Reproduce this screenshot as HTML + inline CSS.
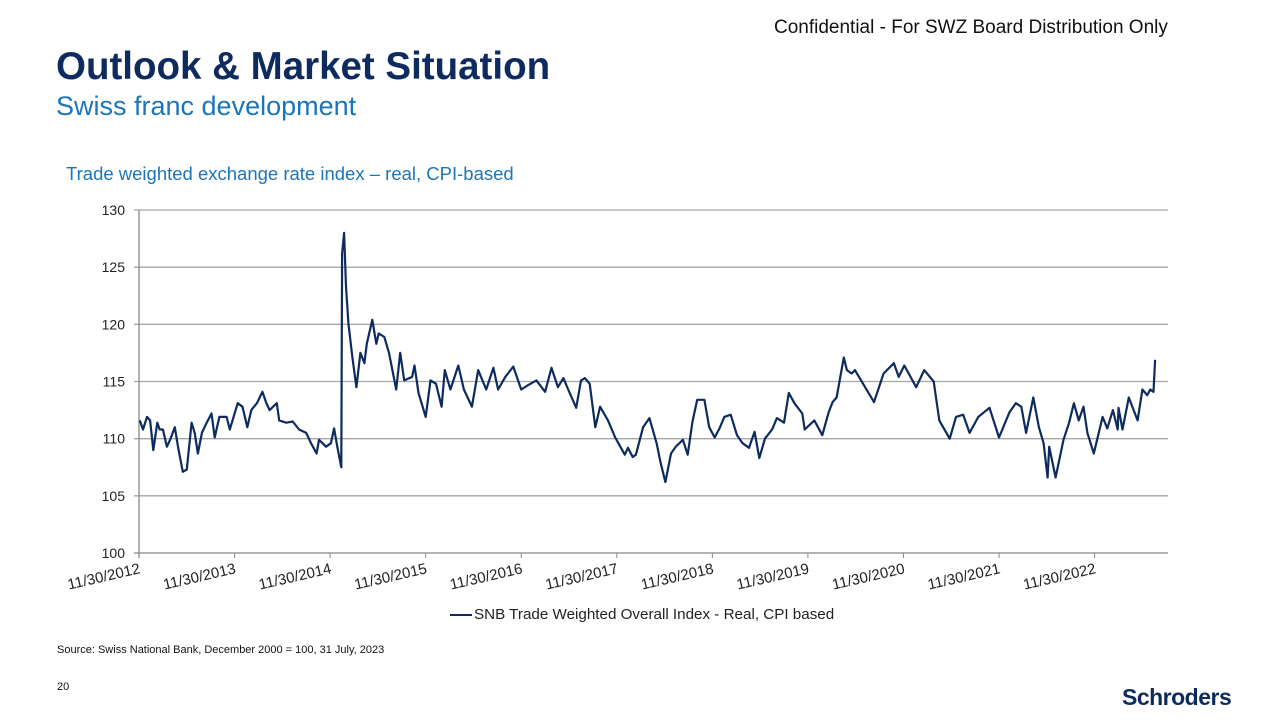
<!DOCTYPE html>
<html><head><meta charset="utf-8"><style>
body{margin:0;width:1280px;height:720px;background:#fff;font-family:"Liberation Sans",sans-serif;position:relative;overflow:hidden}
.a{position:absolute;white-space:nowrap}
</style></head><body>
<div class="a" style="left:774px;top:17px;font-size:19px;color:#111">Confidential - For SWZ Board Distribution Only</div>
<div class="a" style="left:56px;top:45px;font-size:38.5px;font-weight:bold;color:#0d2b5e">Outlook &amp; Market Situation</div>
<div class="a" style="left:56px;top:91px;font-size:27px;color:#1a75bb">Swiss franc development</div>
<div class="a" style="left:66px;top:163px;font-size:18.5px;color:#1a75bb">Trade weighted exchange rate index – real, CPI-based</div>
<svg class="a" style="left:0;top:0" width="1280" height="720">
<g id="grid"></g><g id="xl"></g><polyline id="line" fill="none" stroke="#0d2b5e" stroke-width="2.2" stroke-linejoin="round"/>
</svg>
<div class="a" style="left:450px;top:606px;font-size:15.2px;color:#222"><span style="display:inline-block;width:22px;border-top:2.5px solid #0d2b5e;vertical-align:middle;margin-right:2px"></span>SNB Trade Weighted Overall Index - Real, CPI based</div>
<div class="a" style="left:57px;top:644px;font-size:11px;color:#111">Source: Swiss National Bank, December 2000 = 100, 31 July, 2023</div>
<div class="a" style="left:57px;top:681px;font-size:11px;color:#111">20</div>
<div class="a" style="left:1122px;top:684px;font-size:23px;font-weight:bold;color:#0d2b5e;letter-spacing:-0.5px">Schroders</div>
<script>
const yTicks=[100,105,110,115,120,125,130];
const xTickLabels=["11/30/2012","11/30/2013","11/30/2014","11/30/2015","11/30/2016","11/30/2017","11/30/2018","11/30/2019","11/30/2020","11/30/2021","11/30/2022"];
const months=[0.1,0.5,1.0,1.4,1.8,2.3,2.6,3.0,3.5,3.9,4.5,4.9,5.5,6.0,6.6,7.0,7.4,7.9,8.5,9.1,9.5,10.1,11.0,11.4,12.4,13.0,13.6,14.1,14.8,15.5,16.0,16.4,17.3,17.6,18.5,19.3,20.1,21.0,21.6,22.3,22.6,23.5,24.1,24.5,24.9,25.4,25.5,25.75,26.0,26.3,26.8,27.3,27.8,28.3,28.6,29.3,29.8,30.1,30.8,31.4,32.3,32.8,33.3,34.3,34.6,35.1,36.0,36.6,37.3,38.0,38.4,39.1,40.1,40.8,41.8,42.6,43.6,44.5,45.1,46.0,47.0,48.0,48.9,49.9,51.0,51.8,52.6,53.3,53.9,54.9,55.5,56.0,56.6,57.3,57.9,58.9,59.8,61.0,61.4,62.0,62.4,63.3,64.1,65.0,65.5,66.1,66.8,67.4,68.3,68.9,69.5,70.1,71.0,71.6,72.3,72.9,73.5,74.3,75.1,75.8,76.6,77.3,77.9,78.6,79.5,80.1,81.0,81.6,82.3,83.3,83.6,84.8,85.8,86.6,87.1,87.6,88.5,88.9,89.5,89.9,90.5,92.3,93.5,94.8,95.4,96.1,97.6,98.6,99.8,100.5,101.8,102.6,103.5,104.3,105.4,106.8,108.0,109.3,110.1,110.8,111.4,112.3,113.0,113.6,114.1,114.3,115.1,116.1,116.8,117.4,118.0,118.6,119.1,119.9,121.0,121.6,122.3,122.9,123.0,123.5,124.3,125.4,126.0,126.6,127.0,127.4,127.6];
const values=[111.6,110.8,111.9,111.6,109.0,111.4,110.8,110.8,109.3,109.9,111.0,109.3,107.1,107.3,111.4,110.5,108.7,110.5,111.4,112.2,110.1,111.9,111.9,110.8,113.1,112.8,111.0,112.5,113.1,114.1,113.1,112.5,113.1,111.6,111.4,111.5,110.8,110.5,109.6,108.7,109.9,109.3,109.6,110.9,109.3,107.5,126.2,128.0,123.3,120.1,117.1,114.5,117.5,116.6,118.3,120.4,118.3,119.2,118.9,117.5,114.3,117.5,115.1,115.4,116.4,114.0,111.9,115.1,114.8,112.8,116.0,114.3,116.4,114.3,112.8,116.0,114.3,116.2,114.3,115.4,116.3,114.3,114.7,115.1,114.1,116.2,114.5,115.3,114.3,112.7,115.1,115.3,114.8,111.0,112.8,111.6,110.1,108.6,109.2,108.4,108.6,111.0,111.8,109.6,107.9,106.2,108.7,109.3,109.9,108.6,111.5,113.4,113.4,111.0,110.1,110.9,111.9,112.1,110.3,109.6,109.2,110.6,108.3,110.0,110.8,111.8,111.4,114.0,113.1,112.2,110.8,111.6,110.3,112.3,113.2,113.6,117.1,116.0,115.7,116.0,115.3,113.2,115.7,116.6,115.4,116.4,114.5,116.0,115.0,111.6,110.0,111.9,112.1,110.5,111.9,112.7,110.1,112.3,113.1,112.8,110.5,113.6,111.0,109.6,106.6,109.3,106.6,109.9,111.4,113.1,111.6,112.8,110.5,108.7,111.9,110.9,112.5,110.8,112.7,110.8,113.6,111.6,114.3,113.8,114.3,114.1,116.9,117.3,116.3];
const X0=139,X1=1168,Y0=553,Y1=210,PXM=955.6/120;
const xs=m=>X0+m*PXM, ys=v=>Y0-(v-100)*(Y0-Y1)/30;
const NS="http://www.w3.org/2000/svg";
const g=document.getElementById('grid'),xl=document.getElementById('xl');
yTicks.forEach(v=>{
 const l=document.createElementNS(NS,'line');
 
 
 l.setAttribute('x1',X0-5);l.setAttribute('x2',X1);l.setAttribute('y1',ys(v));l.setAttribute('y2',ys(v));
 l.setAttribute('stroke',v===100?'#888':'#a6a6a6');l.setAttribute('stroke-width','1.3');g.appendChild(l);
 const t=document.createElementNS(NS,'text');
 
 
 t.setAttribute('x',125);t.setAttribute('y',ys(v)+5);t.setAttribute('text-anchor','end');t.setAttribute('font-size','14');t.setAttribute('fill','#222');
 t.setAttribute('font-family','Liberation Sans');t.textContent=v;g.appendChild(t);
});
const ax=document.createElementNS(NS,'line');


ax.setAttribute('x1',X0);ax.setAttribute('x2',X0);ax.setAttribute('y1',Y1);ax.setAttribute('y2',Y0+5);ax.setAttribute('stroke','#888');ax.setAttribute('stroke-width','1.3');g.appendChild(ax);
xTickLabels.forEach((s,i)=>{
 const x=xs(i*12);
 const tk=document.createElementNS(NS,'line');
 
 
 tk.setAttribute('x1',x);tk.setAttribute('x2',x);tk.setAttribute('y1',Y0);tk.setAttribute('y2',Y0+5);tk.setAttribute('stroke','#888');g.appendChild(tk);
 const t=document.createElementNS(NS,'text');
 
 
 t.setAttribute('x',x+2);t.setAttribute('y',573);t.setAttribute('text-anchor','end');t.setAttribute('font-size','15');t.setAttribute('fill','#222');
 t.setAttribute('font-family','Liberation Sans');t.setAttribute('transform','rotate(-13 '+(x+2)+' 573)');t.textContent=s;xl.appendChild(t);
});
const ln=document.getElementById('line');


ln.setAttribute('points',months.map((m,i)=>xs(m).toFixed(1)+','+ys(values[i]).toFixed(1)).join(' '));
</script>
</body></html>
